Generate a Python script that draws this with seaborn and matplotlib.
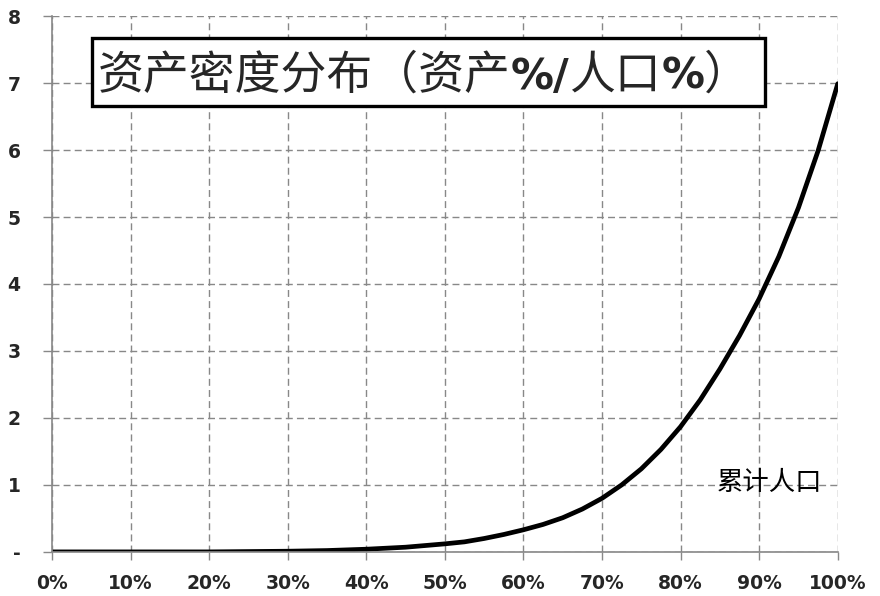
import pandas as pd
import matplotlib
matplotlib.use("Agg")
import matplotlib.pyplot as plt
import seaborn as sns
from matplotlib.patches import Rectangle
from matplotlib.ticker import FuncFormatter

# cumulative population share (%) and asset density (asset% / population%)
population_pct = [0, 5, 10, 15, 20, 25, 30, 35, 40, 42.5, 45, 47.5, 50, 52.5, 55, 57.5,
                  60, 62.5, 65, 67.5, 70, 72.5, 75, 77.5, 80, 82.5, 85, 87.5, 90,
                  92.5, 95, 97.5, 100]
asset_density = [0, 0, 0, 0, 0, 0.005, 0.01, 0.02, 0.04, 0.055, 0.07, 0.095, 0.12, 0.15,
                 0.2, 0.26, 0.33, 0.41, 0.51, 0.64, 0.80, 1.0, 1.24, 1.53, 1.87, 2.27,
                 2.73, 3.23, 3.78, 4.41, 5.14, 5.99, 6.99]

x_ticks = [0, 10, 20, 30, 40, 50, 60, 70, 80, 90, 100]
y_ticks = [0, 1, 2, 3, 4, 5, 6, 7, 8]

# title pieces: (text, bold latin?)
title_parts = [("资产密度分布（资产", False), ("%/", True), ("人口", False),
               ("%", True), ("）", False)]
x_note = "累计人口"

df = pd.DataFrame({"population": population_pct, "density": asset_density})

sns.set_theme(style="white")
plt.rcParams["font.family"] = ["DejaVu Sans", "Noto Sans CJK SC"]
CJK = ["Noto Sans CJK SC", "DejaVu Sans"]

fig = plt.figure(figsize=(8.8, 5.96), dpi=100)
ax = fig.add_axes([0.059, 0.074, 0.893, 0.899])

sns.lineplot(data=df, x="population", y="density", ax=ax, color="black", linewidth=3.4)
ax.lines[0].set_solid_joinstyle("round")

ax.set_xlim(0, 100)
ax.set_ylim(0, 8)
ax.set_xticks(x_ticks)
ax.set_yticks(y_ticks)
ax.xaxis.set_major_formatter(FuncFormatter(lambda v, p: f"{v:.0f}%"))
ax.yaxis.set_major_formatter(FuncFormatter(lambda v, p: "-" if v == 0 else f"{v:.0f}"))
ax.set_xlabel("")
ax.set_ylabel("")

for lbl in ax.get_xticklabels() + ax.get_yticklabels():
    lbl.set_fontweight("bold")
    lbl.set_fontsize(13.5)
    lbl.set_fontfamily("DejaVu Sans")

ax.tick_params(axis="x", direction="out", length=6, width=1, color="#888888", pad=10)
ax.tick_params(axis="y", direction="out", length=6.5, width=1, color="#888888", pad=16)
ax.tick_params(axis="both", which="both", bottom=True, left=True)

ax.grid(True, color="#888888", linestyle=(0, (5, 3)), linewidth=1)
for side in ["top", "right"]:
    ax.spines[side].set_visible(False)
for side in ["left", "bottom"]:
    ax.spines[side].set_color("#888888")
    ax.spines[side].set_linewidth(1.2)

# title box
ax.add_patch(Rectangle((0.051, 0.832), 0.856, 0.127, transform=ax.transAxes,
                       facecolor="white", edgecolor="black", linewidth=2.4,
                       zorder=5, clip_on=False))

# chain the title pieces left to right, CJK regular + bold latin symbols
renderer = fig.canvas.get_renderer()
x_px = ax.transAxes.transform((0.0585, 0))[0]
base_y = 0.864
for txt, bold in title_parts:
    x_ax = ax.transAxes.inverted().transform((x_px, 0))[0]
    if bold:
        t = ax.text(x_ax, base_y, txt, transform=ax.transAxes, ha="left", va="baseline",
                    fontsize=31, fontweight="bold", family="DejaVu Sans", zorder=6)
    else:
        t = ax.text(x_ax, base_y, txt, transform=ax.transAxes, ha="left", va="baseline",
                    fontsize=33, family=CJK, zorder=6)
    x_px = t.get_window_extent(renderer).x1

ax.text(91.3, 1.03, x_note, ha="center", va="center", fontsize=19,
        family=CJK, color="black", zorder=6)

fig.savefig("out.png", dpi=100)
